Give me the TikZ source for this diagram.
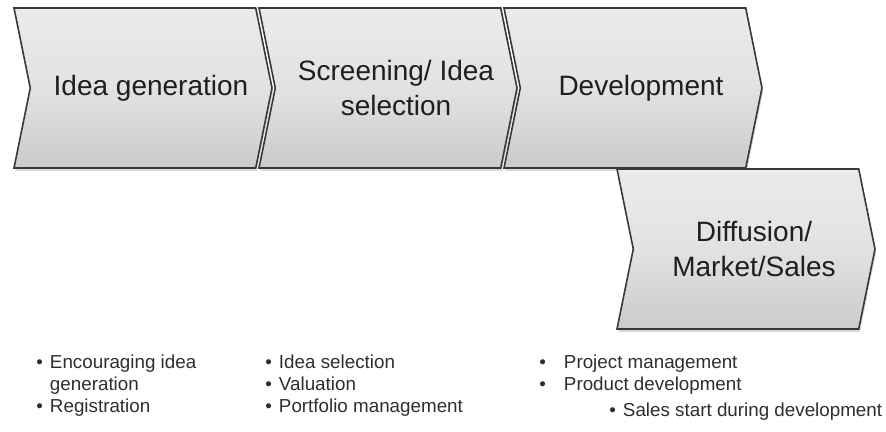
\documentclass[tikz,border=0pt]{standalone}
\usepackage{fontspec}
\setmainfont{Liberation Sans}
\usetikzlibrary{calc,shadows,shapes.symbols}

\definecolor{chevtop}{HTML}{EAEBED}
\definecolor{chevmid}{HTML}{E0E2E4}
\definecolor{chevbottom}{HTML}{C9CBCD}
\definecolor{chevline}{HTML}{383838}

\begin{document}
\begin{tikzpicture}[x=0.5pt,y=-0.5pt,
    phase/.style={signal,signal to=east,signal from=west,signal pointer angle=157,
      minimum width=129pt,minimum height=80pt,inner sep=0pt,
      draw=chevline,line width=0.8pt,
      top color=chevtop,bottom color=chevbottom,middle color=chevmid,
      drop shadow={shadow xshift=0.6pt,shadow yshift=-1.6pt,opacity=0.3},
      font=\fontsize{14}{17.5}\selectfont,align=center,text=black!88},
    items/.style={inner sep=0pt,anchor=base west,font=\fontsize{9.4}{11}\selectfont,text=black!82}]
  \useasboundingbox (0,0) rectangle (886,432);

  \node[phase] (generation) at (143,88) {\hspace*{8pt}Idea generation};
  \node[phase] (selection) at ($ (generation) + (245,0) $) {\hspace*{8pt}Screening/ Idea\\\hspace*{8pt}selection};
  \node[phase] (development) at ($ (selection) + (245,0) $) {\hspace*{8pt}Development};
  \node[phase] (diffusion) at ($ (development) + (113,161) $) {\hspace*{8pt}Diffusion/\\\hspace*{8pt}Market/Sales};

  \node[items] (generation items) at (36,368) {\begin{tabular}[t]{@{}l@{\hspace{3.5pt}}l@{}}
      \textbullet & Encouraging idea\\ & generation\\ \textbullet & Registration\end{tabular}};
  \node[items] (selection items) at (265,368) {\begin{tabular}[t]{@{}l@{\hspace{3.5pt}}l@{}}
      \textbullet & Idea selection\\ \textbullet & Valuation\\ \textbullet & Portfolio management\end{tabular}};
  \node[items] (development items) at (539,368) {\begin{tabular}[t]{@{}l@{\hspace{9pt}}l@{}}
      \textbullet & Project management\\ \textbullet & Product development\end{tabular}};
  \node[items] (diffusion items) at (609,416) {\textbullet\hspace{3.5pt}Sales start during development};
\end{tikzpicture}
\end{document}
